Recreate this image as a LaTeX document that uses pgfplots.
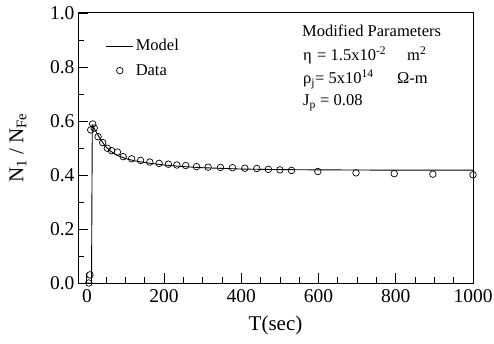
\documentclass[border=0pt]{standalone}
\usepackage{fontspec}
\setmainfont{Liberation Serif}
\usepackage{pgfplots}
\pgfplotsset{compat=1.18}
\pgfplotsset{
  mylegline/.style={legend image code/.code={\draw[##1] (0pt,0pt) -- (27pt,0pt);}},
  mylegmark/.style={legend image code/.code={\draw[##1] plot coordinates {(13.5pt,0pt)};}},
}
\begin{document}
\begin{tikzpicture}[x=1pt,y=1pt]
\begin{axis}[
  at={(78pt,60pt)}, anchor=south west,
  scale only axis, width=395pt, height=270pt,
  xmin=-23, xmax=1000, ymin=0, ymax=1.0,
  xtick={0,200,400,600,800,1000},
  ytick={0,0.2,0.4,0.6,0.8,1.0},
  minor x tick num=3, minor y tick num=1,
  tick align=inside, xtick pos=left, ytick pos=left,
  major tick length=10pt, minor tick length=6pt,
  tick style={black, line width=0.8pt},
  axis line style={line width=1pt},
  /pgf/number format/assume math mode=true,
  ticklabel style={font=\fontsize{19.5}{21}\selectfont},
  yticklabel style={/pgf/number format/.cd, fixed, fixed zerofill, precision=1},
  xticklabel style={yshift=-3pt, /pgf/number format/.cd, fixed, 1000 sep={}},
  xlabel={T(sec)}, ylabel={N\textsubscript{1} / N\textsubscript{Fe}},
  every axis x label/.style={at={(rel axis cs:0.5,0)}, yshift=-42pt, anchor=center, font=\fontsize{21}{23}\selectfont},
  every axis y label/.style={at={(rel axis cs:0,0.5)}, xshift=-60pt, rotate=90, anchor=center, font=\fontsize{21}{23}\selectfont},
  legend style={draw=none, fill=none, at={(rel axis cs:0.07,0.91)}, anchor=north west,
    font=\fontsize{16.5}{18}\selectfont, row sep=8pt, inner sep=0pt},
  legend cell align=left,
]
\addplot[black, line width=0.9pt, mylegline] coordinates {
(0,0) (12,0) (14,0.585) (20,0.57) (30,0.545) (40,0.522) (50,0.503) (60,0.49) (70,0.48) (80,0.472) (100,0.461) (125,0.452) (150,0.446) (200,0.437) (250,0.431) (300,0.427) (400,0.422) (500,0.42) (600,0.419) (800,0.418) (1000,0.418)
};
\addlegendentry{Model}
\addplot[only marks, mark=o, mark size=3.3pt, black, line width=0.7pt, mylegmark] coordinates {
(5,0) (8,0.03) (10,0.567) (15,0.589) (19,0.574) (29,0.542) (41,0.52) (53,0.499) (64,0.49) (79,0.485) (94,0.468) (116,0.46) (139,0.454) (163,0.448) (187,0.443) (211,0.44) (233,0.437) (256,0.435) (284,0.431) (314,0.429) (346,0.428) (377,0.427) (409,0.425) (440,0.424) (470,0.421) (500,0.419) (530,0.417) (598,0.413) (697,0.408) (796,0.405) (896,0.403) (1000,0.401)
};
\addlegendentry{Data}
\end{axis}
\begin{scope}[font=\fontsize{16.5}{18}\selectfont]
\node[anchor=base west, inner sep=0pt] at (302pt,343pt-37pt) {Modified Parameters};
\node[anchor=base west, inner sep=0pt] at (303pt,343pt-61pt) {η};
\node[anchor=base west, inner sep=0pt] at (317pt,343pt-61pt) {= 1.5x10\textsuperscript{-2}};
\node[anchor=base west, inner sep=0pt] at (407pt,343pt-61pt) {m\textsuperscript{2}};
\node[anchor=base west, inner sep=0pt] at (303pt,343pt-84pt) {ρ\textsubscript{j}};
\node[anchor=base west, inner sep=0pt] at (315pt,343pt-84pt) {= 5x10\textsuperscript{14}};
\node[anchor=base west, inner sep=0pt] at (397pt,343pt-84pt) {Ω-m};
\node[anchor=base west, inner sep=0pt] at (303pt,343pt-106pt) {J\textsubscript{p}};
\node[anchor=base west, inner sep=0pt] at (320pt,343pt-106pt) {= 0.08};
\end{scope}
\pgfresetboundingbox
\path (0pt,0pt) rectangle (494pt,343pt);
\end{tikzpicture}
\end{document}
